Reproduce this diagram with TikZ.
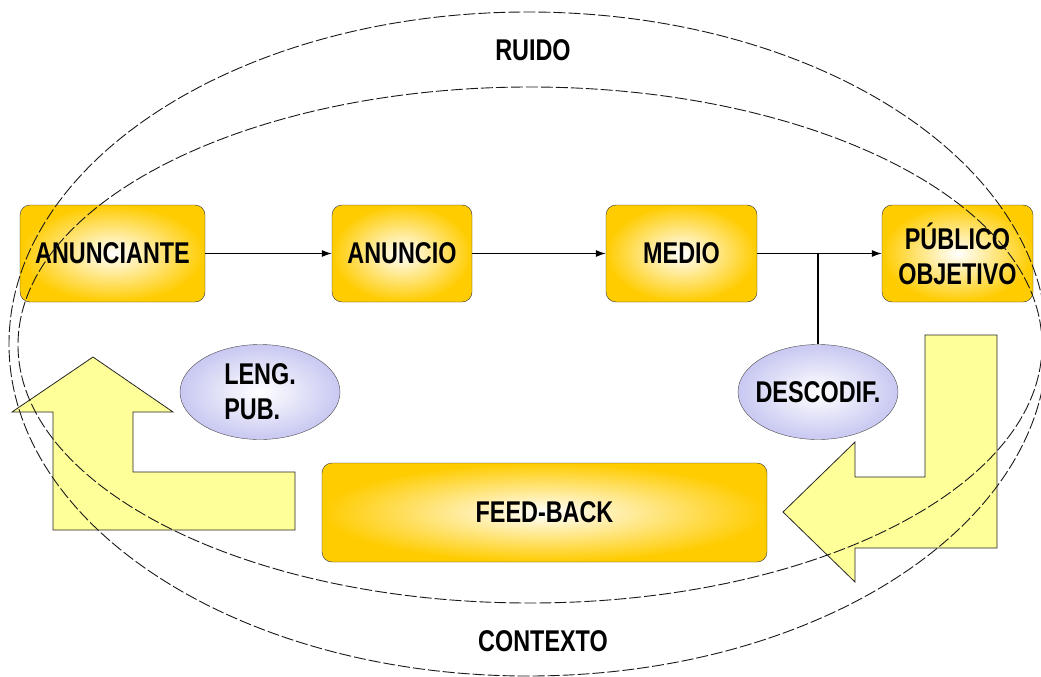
\documentclass[tikz,border=0pt]{standalone}
\usepackage{fontspec}
\setmainfont{Liberation Sans}[FakeStretch=0.78]
\usetikzlibrary{positioning, shapes.geometric, arrows.meta}
\definecolor{boxgold}{HTML}{FFCC00}
\definecolor{bubble}{HTML}{C8C8F2}
\definecolor{bigarrow}{HTML}{FFFF99}

\begin{document}
\begin{tikzpicture}[x=1pt, y=-1pt,
    stage/.style={draw=black!80, rounded corners=10pt, inner color=white, outer color=boxgold,
      minimum height=97pt, inner sep=0pt, align=center, font=\bfseries\fontsize{30}{35}\selectfont},
    bubblenode/.style={ellipse, draw=black!70, inner color=white, outer color=bubble,
      minimum width=160pt, minimum height=95pt, inner sep=0pt, font=\bfseries\fontsize{30}{35}\selectfont},
    ring/.style={draw=black!90, line width=0.9pt, dash pattern=on 12pt off 3pt},
    flow/.style={-{Latex[length=10pt, width=7pt]}, line width=1.1pt}]
                \useasboundingbox (0,0) rectangle (1041,677);

                % feedback arrows
                \draw[fill=bigarrow, draw=black!85, line width=0.8pt] (93,357) -- (173,412) -- (133,412) -- (133,472)
                    -- (295,472) -- (295,530) -- (53,530) -- (53,412) -- (12,412) -- cycle;
                \draw[fill=bigarrow, draw=black!85, line width=0.8pt] (925,335) -- (997,335) -- (997,548) -- (855,548)
                    -- (855,582) -- (783,512) -- (855,442) -- (855,477) -- (925,477) -- cycle;

                \node[stage, minimum width=185pt] (anunciante) at (112.5,253.5) {ANUNCIANTE};
                \node[stage, minimum width=140pt] (anuncio) at (402,253.5) {ANUNCIO};
                \node[stage, minimum width=151pt] (medio) at (681.5,253.5) {MEDIO};
                \node[stage, minimum width=151pt] (publico) at (957.5,253.5) {PÚBLICO\\OBJETIVO};
                \node[stage, minimum width=445pt, minimum height=99pt] (feedback) at (544.5,512.5) {FEED-BACK};

                \node[bubblenode, align=left] (lengpub) at (260,392) {LENG.\\PUB.};
                \node[bubblenode, inner xsep=-8pt] (descodif) at (818,392) {DESCODIF.};

                \draw[flow] (anunciante.east) -- (anuncio.west);
                \draw[flow] (anuncio.east) -- (medio.west);
                \draw[flow] (medio.east) -- (publico.west);
                \draw[line width=1.1pt] (descodif.north) -- (descodif.north |- medio.east);

                % ruido / contexto
                \draw[ring] (528,344) ellipse [x radius=519, y radius=332];
                \draw[ring] (530,345) ellipse [x radius=512, y radius=258];
                \node[font=\bfseries\fontsize{30}{35}\selectfont] (ruido) at (533,50) {RUIDO};
                \node[font=\bfseries\fontsize{30}{35}\selectfont] (contexto) at (543,641) {CONTEXTO};
            \end{tikzpicture}
\end{document}
